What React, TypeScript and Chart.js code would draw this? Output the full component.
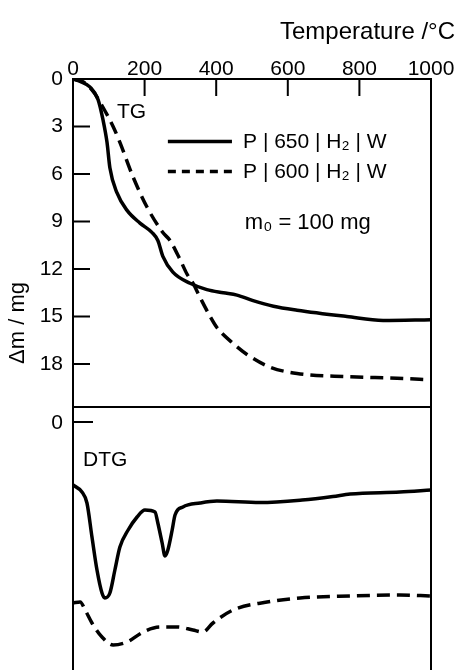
import React, { useEffect, useRef } from "react";
import { Chart, registerables } from "chart.js";

Chart.register(...registerables);

// ---- data ----
const tempTicks = [0, 200, 400, 600, 800, 1000];
const massTicks = [0, 3, 6, 9, 12, 15, 18];
const dtgTicks = [0];

// TG, sample P|650|H2|W (solid)
const tgSolidT = [0, 20, 47, 70, 84, 95, 103, 123, 151, 187, 221, 237, 251, 279, 327, 374, 420, 458, 503, 560, 626, 765, 866, 1000];
const tgSolidM = [0, 0.15, 0.5, 1.3, 2.6, 4.0, 5.6, 7.2, 8.3, 9.1, 9.7, 10.2, 11.2, 12.2, 12.9, 13.3, 13.5, 13.65, 14.0, 14.35, 14.6, 15.0, 15.25, 15.2];

// TG, sample P|600|H2|W (dashed)
const tgDashT = [0, 30, 60, 84, 112, 131, 168, 207, 251, 271, 299, 318, 335, 355, 383, 402, 447, 486, 550, 626, 765, 905, 1000];
const tgDashM = [0, 0.2, 0.9, 1.8, 3.0, 4.0, 6.2, 8.1, 9.7, 10.2, 11.4, 12.3, 12.9, 13.8, 15.0, 15.7, 16.7, 17.4, 18.2, 18.6, 18.8, 18.9, 19.0];

// DTG (arbitrary units, downwards positive)
const dtgSolidT = [0, 25, 39, 53, 67, 81, 89, 103, 117, 131, 154, 179, 201, 229, 237, 249, 257, 265, 277, 285, 307, 355, 402, 522, 640, 726, 774, 913, 1000];
const dtgSolidV = [6.3, 7.0, 8.1, 11.5, 14.8, 17.1, 17.6, 17.1, 14.8, 12.5, 10.8, 9.5, 8.8, 9.0, 10.1, 12.1, 13.4, 12.8, 10.8, 9.3, 8.5, 8.1, 7.9, 8.05, 7.8, 7.45, 7.2, 7.0, 6.8];

const dtgDashT = [0, 20, 34, 53, 81, 112, 151, 196, 243, 291, 335, 363, 391, 447, 542, 634, 774, 913, 1000];
const dtgDashV = [18.1, 18.0, 18.8, 20.1, 21.5, 22.3, 22.0, 21.0, 20.5, 20.5, 20.8, 21.0, 20.1, 18.8, 18.0, 17.6, 17.4, 17.3, 17.4];

const legendLabels = ["P | 650 | H₂ | W", "P | 600 | H₂ | W"];
const massNote = "m₀ = 100 mg";
const xTitle = "Temperature /°C";
const yTitle = "Δm / mg";

const FONT = "'Liberation Sans', Arial, sans-serif";
const DASH = [13, 7];

function pts(xs: number[], ys: number[]) {
  return xs.map((x, i) => ({ x, y: ys[i] }));
}

const framePlugin = {
  id: "frame",
  afterDatasetsDraw(chart: any) {
    const { ctx, chartArea } = chart;
    const x = chart.scales.x;
    const yTG = chart.scales.yTG;
    const yD = chart.scales.yDTG;
    const L = chartArea.left;
    const R = chartArea.right;
    const T = chartArea.top;
    const B = chartArea.bottom;
    const split = yD.getPixelForValue(-1.5);
    ctx.save();
    ctx.strokeStyle = "#000";
    ctx.fillStyle = "#000";
    ctx.lineWidth = 2;
    ctx.setLineDash([]);
    ctx.beginPath();
    ctx.moveTo(L, B);
    ctx.lineTo(L, T);
    ctx.lineTo(R, T);
    ctx.lineTo(R, B);
    ctx.moveTo(L, split);
    ctx.lineTo(R, split);
    x.ticks.forEach((t: any) => {
      if (t.value <= 0 || t.value >= 1000) return;
      const px = x.getPixelForValue(t.value);
      ctx.moveTo(px, T);
      ctx.lineTo(px, T + 17);
    });
    yTG.ticks.forEach((t: any) => {
      if (t.value === 0) return;
      const py = yTG.getPixelForValue(t.value);
      ctx.moveTo(L, py);
      ctx.lineTo(L + 17, py);
    });
    dtgTicks.forEach((v) => {
      const py = yD.getPixelForValue(v);
      ctx.moveTo(L, py);
      ctx.lineTo(L + 20, py);
    });
    ctx.stroke();

    ctx.font = `21px ${FONT}`;
    ctx.textAlign = "right";
    ctx.textBaseline = "middle";
    dtgTicks.forEach((v) => {
      ctx.fillText(String(v), L - 10, yD.getPixelForValue(v) + 1);
    });

    ctx.font = `24px ${FONT}`;
    ctx.textAlign = "right";
    ctx.textBaseline = "middle";
    ctx.fillText(xTitle, 455, 32);

    ctx.save();
    ctx.translate(18, 323);
    ctx.rotate(-Math.PI / 2);
    ctx.textAlign = "center";
    ctx.textBaseline = "middle";
    ctx.font = `22px ${FONT}`;
    ctx.fillText(yTitle, 0, 0);
    ctx.restore();

    ctx.font = `21px ${FONT}`;
    ctx.textAlign = "left";
    ctx.textBaseline = "middle";
    ctx.fillText("TG", x.getPixelForValue(123), yTG.getPixelForValue(2.1));
    ctx.fillText("DTG", x.getPixelForValue(28), yD.getPixelForValue(3.8));

    const lx0 = x.getPixelForValue(265);
    const lx1 = x.getPixelForValue(444);
    const tx = x.getPixelForValue(475);
    const rows = [3.95, 5.85];
    ctx.lineWidth = 3.5;
    rows.forEach((m, i) => {
      const py = yTG.getPixelForValue(m);
      ctx.setLineDash(i === 0 ? [] : [8, 6]);
      ctx.beginPath();
      ctx.moveTo(lx0, py);
      ctx.lineTo(lx1, py);
      ctx.stroke();
      ctx.setLineDash([]);
      ctx.font = `21px ${FONT}`;
      ctx.fillText(legendLabels[i], tx, py + 1);
    });
    ctx.font = `22px ${FONT}`;
    ctx.fillText(massNote, x.getPixelForValue(480), yTG.getPixelForValue(9.1));
    ctx.restore();
  },
};

export default function App() {
  const ref = useRef<HTMLCanvasElement | null>(null);
  useEffect(() => {
    if (!ref.current) return;
    const lineBase = {
      borderColor: "#000",
      backgroundColor: "#000",
      borderWidth: 3.5,
      pointRadius: 0,
      fill: false,
      cubicInterpolationMode: "monotone" as const,
      xAxisID: "x",
    };
    const chart = new Chart(ref.current, {
      type: "line",
      data: {
        datasets: [
          { ...lineBase, label: legendLabels[0], data: pts(tgSolidT, tgSolidM), yAxisID: "yTG" },
          { ...lineBase, label: legendLabels[1], data: pts(tgDashT, tgDashM), yAxisID: "yTG", borderDash: DASH },
          { ...lineBase, label: "DTG " + legendLabels[0], data: pts(dtgSolidT, dtgSolidV), yAxisID: "yDTG" },
          { ...lineBase, label: "DTG " + legendLabels[1], data: pts(dtgDashT, dtgDashV), yAxisID: "yDTG", borderDash: DASH },
        ],
      },
      options: {
        animation: false,
        responsive: false,
        devicePixelRatio: 1,
        layout: { padding: { top: 0, left: 0, right: 28, bottom: 0 } },
        plugins: { legend: { display: false }, tooltip: { enabled: false } },
        scales: {
          x: {
            type: "linear",
            position: "top",
            min: 0,
            max: 1000,
            afterBuildTicks: (a: any) => {
              a.ticks = tempTicks.map((v) => ({ value: v }));
            },
            afterFit: (a: any) => {
              a.height = 79;
              a.paddingLeft = 0;
              a.paddingRight = 0;
            },
            grid: { display: false, drawTicks: false },
            border: { display: false },
            ticks: {
              padding: -3,
              color: "#000",
              maxRotation: 0,
              autoSkip: false,
              font: { family: FONT, size: 21 },
              callback: (v: any) => String(v),
            },
          },
          yTG: {
            type: "linear",
            position: "left",
            reverse: true,
            min: 0,
            max: 37.33,
            afterBuildTicks: (a: any) => {
              a.ticks = massTicks.map((v) => ({ value: v }));
            },
            afterFit: (a: any) => {
              a.width = 73;
              a.paddingTop = 0;
              a.paddingBottom = 0;
            },
            grid: { display: false, drawTicks: false },
            border: { display: false },
            ticks: {
              padding: 10,
              color: "#000",
              autoSkip: false,
              font: { family: FONT, size: 21 },
              callback: (v: any) => String(v),
            },
          },
          yDTG: {
            type: "linear",
            position: "left",
            display: false,
            reverse: true,
            min: -34.3,
            max: 24.8,
          },
        },
      } as any,
      plugins: [framePlugin],
    });
    return () => chart.destroy();
  }, []);
  return (
    <div style={{ position: "absolute", left: 0, top: 0, width: 459, height: 670, background: "#fff" }}>
      <canvas ref={ref} width={459} height={670} style={{ width: 459, height: 670, display: "block" }} />
    </div>
  );
}
